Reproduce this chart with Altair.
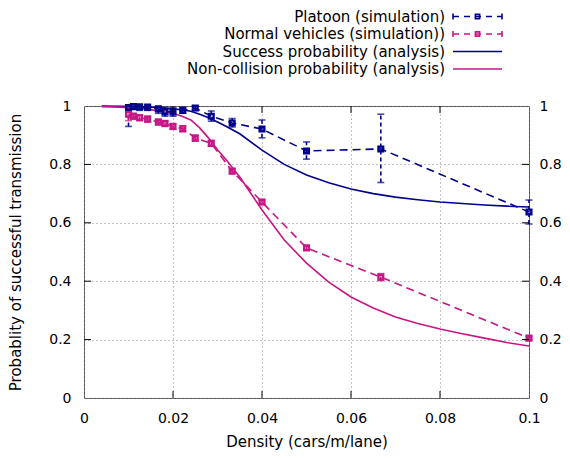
import altair as alt
import pandas as pd

# ---- data ----
sim_x = [0.01, 0.0111, 0.0125, 0.0143, 0.0167, 0.0182, 0.02, 0.0222, 0.025,
         0.0286, 0.0333, 0.04, 0.05, 0.0667, 0.1]
platoon_y = [0.995, 0.998, 0.997, 0.996, 0.99, 0.98, 0.98, 0.985, 0.993,
             0.965, 0.942, 0.921, 0.846, 0.853, 0.637]
platoon_lo = [0.93, 0.99, 0.985, 0.985, 0.975, 0.965, 0.965, 0.975, 0.985,
              0.948, 0.928, 0.891, 0.818, 0.738, 0.596]
platoon_hi = [1.0, 1.0, 1.0, 1.0, 1.0, 0.995, 0.995, 0.995, 1.0,
              0.983, 0.957, 0.952, 0.877, 0.972, 0.678]
normal_y = [0.972, 0.965, 0.96, 0.955, 0.945, 0.94, 0.93, 0.922, 0.89,
            0.872, 0.777, 0.671, 0.514, 0.414, 0.205]
normal_lo = [0.95, 0.955, 0.95, 0.945, 0.935, 0.93, 0.92, 0.912, 0.88,
             0.862, 0.769, 0.663, 0.508, 0.402, 0.2]
normal_hi = [0.99, 0.975, 0.97, 0.965, 0.955, 0.95, 0.94, 0.932, 0.9,
             0.882, 0.785, 0.679, 0.52, 0.426, 0.21]

ana_x = [0.004, 0.008, 0.012, 0.016, 0.02, 0.022, 0.024, 0.026, 0.028, 0.03,
         0.032, 0.035, 0.04, 0.045, 0.05, 0.055, 0.06, 0.065, 0.07, 0.075,
         0.08, 0.085, 0.09, 0.095, 0.1]
success_y = [1.0, 0.999, 0.998, 0.995, 0.99, 0.987, 0.982, 0.972, 0.96, 0.945,
             0.93, 0.905, 0.849, 0.80, 0.764, 0.737, 0.716, 0.70, 0.688, 0.679,
             0.671, 0.666, 0.661, 0.657, 0.654]
noncoll_y = [0.998, 0.996, 0.993, 0.985, 0.975, 0.965, 0.952, 0.925, 0.89, 0.85,
             0.815, 0.757, 0.644, 0.541, 0.462, 0.397, 0.346, 0.308, 0.277, 0.255,
             0.236, 0.22, 0.205, 0.19, 0.178]

x_ticks = [0.02, 0.04, 0.06, 0.08]
y_ticks = [0.2, 0.4, 0.6, 0.8]
x_labels = [0, 0.02, 0.04, 0.06, 0.08, 0.1]
y_labels = [0, 0.2, 0.4, 0.6, 0.8, 1]

series_names = ["Platoon (simulation)", "Normal vehicles (simulation))",
                "Success probability (analysis)", "Non-collision probability (analysis)"]
BLUE = "#00008b"
PINK = "#c71585"

FONT = "DejaVu Sans"
W, H = 445, 292

sim = pd.DataFrame({
    "x": sim_x * 2,
    "y": platoon_y + normal_y,
    "lo": platoon_lo + normal_lo,
    "hi": platoon_hi + normal_hi,
    "s": [series_names[0]] * len(sim_x) + [series_names[1]] * len(sim_x),
})
ana = pd.DataFrame({
    "x": ana_x * 2,
    "y": success_y + noncoll_y,
    "s": [series_names[2]] * len(ana_x) + [series_names[3]] * len(ana_x),
})
xt = pd.DataFrame({"x": x_ticks})
yt = pd.DataFrame({"y": y_ticks})
one = pd.DataFrame({"k": [0]})

color = alt.Color("s:N", scale=alt.Scale(domain=series_names, range=[BLUE, PINK, BLUE, PINK]), legend=None)
xs = alt.Scale(domain=[0, 0.1], nice=False)
ys = alt.Scale(domain=[0, 1], nice=False)

x_axis = alt.Axis(values=x_labels, format="~g", ticks=False, domain=False, labelFlush=False,
                  grid=True, gridDash=[1, 3], gridColor="#888888", labelPadding=13,
                  title="Density (cars/m/lane)", titlePadding=9)
y_axis = alt.Axis(values=y_labels, format="~g", ticks=False, domain=False, labelFlush=False,
                  grid=True, gridDash=[1, 3], gridColor="#888888", labelPadding=13,
                  title="Probablity of successful transmission", titlePadding=25)
y_axis_r = alt.Axis(values=y_labels, format="~g", ticks=False, domain=False, labelFlush=False,
                    grid=False, labelPadding=10, title=None, orient="right")


def X(field="x"):
    return alt.X(f"{field}:Q", scale=xs, axis=x_axis)


DASH = [8, 5]

sim_line = alt.Chart(sim).mark_line(strokeDash=DASH, strokeWidth=1.6).encode(
    x=X(), y=alt.Y("y:Q", scale=ys, axis=y_axis), color=color, detail="s:N")
err = alt.Chart(sim).mark_rule(strokeDash=[4, 3], strokeWidth=1.6).encode(
    x=X(), y=alt.Y("lo:Q", scale=ys, axis=None), y2="hi:Q", color=color)
cap_lo = alt.Chart(sim).mark_tick(orient="horizontal", size=7, thickness=1.6).encode(
    x=X(), y=alt.Y("lo:Q", scale=ys, axis=None), color=color)
cap_hi = alt.Chart(sim).mark_tick(orient="horizontal", size=7, thickness=1.6).encode(
    x=X(), y=alt.Y("hi:Q", scale=ys, axis=None), color=color)
pts = alt.Chart(sim).mark_point(shape="square", filled=False, size=22, strokeWidth=2.4, opacity=1).encode(
    x=X(), y=alt.Y("y:Q", scale=ys, axis=None), color=color)
ana_line = alt.Chart(ana).mark_line(strokeWidth=1.6).encode(
    x=X(), y=alt.Y("y:Q", scale=ys, axis=y_axis_r), color=color, detail="s:N")

# inward ticks on all four sides
tick_style = dict(color="black", strokeWidth=1)
t_bot = alt.Chart(xt).mark_rule(**tick_style).encode(
    x=X(), y=alt.value(H), y2=alt.value(H - 7))
t_top = alt.Chart(xt).mark_rule(**tick_style).encode(
    x=X(), y=alt.value(0), y2=alt.value(7))
t_left = alt.Chart(yt).mark_rule(**tick_style).encode(
    y=alt.Y("y:Q", scale=ys, axis=None), x=alt.value(0), x2=alt.value(7))
t_right = alt.Chart(yt).mark_rule(**tick_style).encode(
    y=alt.Y("y:Q", scale=ys, axis=None), x=alt.value(W), x2=alt.value(W - 7))

# legend (above plot, right-aligned labels, sample on the right)
leg_rows = [-89.5, -72.0, -54.5, -37.0]
leg_cols = [BLUE, PINK, BLUE, PINK]
TX, S0, S1 = 361, 369, 418
SM = (S0 + S1) / 2
legend_layers = []
for i, (name, yy, c) in enumerate(zip(series_names, leg_rows, leg_cols)):
    legend_layers.append(alt.Chart(one).mark_text(align="right", baseline="middle", font=FONT,
                                                  fontSize=15, color="black").encode(
        x=alt.value(TX), y=alt.value(yy), text=alt.value(name)))
    if i < 2:
        legend_layers.append(alt.Chart(one).mark_rule(color=c, strokeWidth=1.6, strokeDash=[6, 5]).encode(
            x=alt.value(S0), x2=alt.value(S1), y=alt.value(yy)))
        legend_layers.append(alt.Chart(one).mark_rule(color=c, strokeWidth=1.6).encode(
            x=alt.value(S0), y=alt.value(yy - 3), y2=alt.value(yy + 3)))
        legend_layers.append(alt.Chart(one).mark_rule(color=c, strokeWidth=1.6).encode(
            x=alt.value(S1), y=alt.value(yy - 3), y2=alt.value(yy + 3)))
        legend_layers.append(alt.Chart(one).mark_point(shape="square", filled=False, size=18,
                                                       strokeWidth=1.6, color=c, opacity=1).encode(
            x=alt.value(SM), y=alt.value(yy)))
    else:
        legend_layers.append(alt.Chart(one).mark_rule(color=c, strokeWidth=1.6).encode(
            x=alt.value(S0), x2=alt.value(S1), y=alt.value(yy)))

chart = alt.layer(
    sim_line, ana_line, err, cap_lo, cap_hi, pts,
    t_bot, t_top, t_left, t_right, *legend_layers
).resolve_axis(y="independent").properties(
    width=W, height=H,
    autosize=alt.AutoSizeParams(type="none"),
    padding={"left": 76, "top": 98, "right": 33, "bottom": 52},
    background="white",
).configure_view(stroke="#555555", strokeWidth=1).configure_axis(
    labelFont=FONT, titleFont=FONT, labelFontSize=14, titleFontSize=15,
    labelColor="black", titleColor="black", titleFontWeight="normal",
)

chart.save("out.html", embed_options={"renderer": "svg", "actions": False})
